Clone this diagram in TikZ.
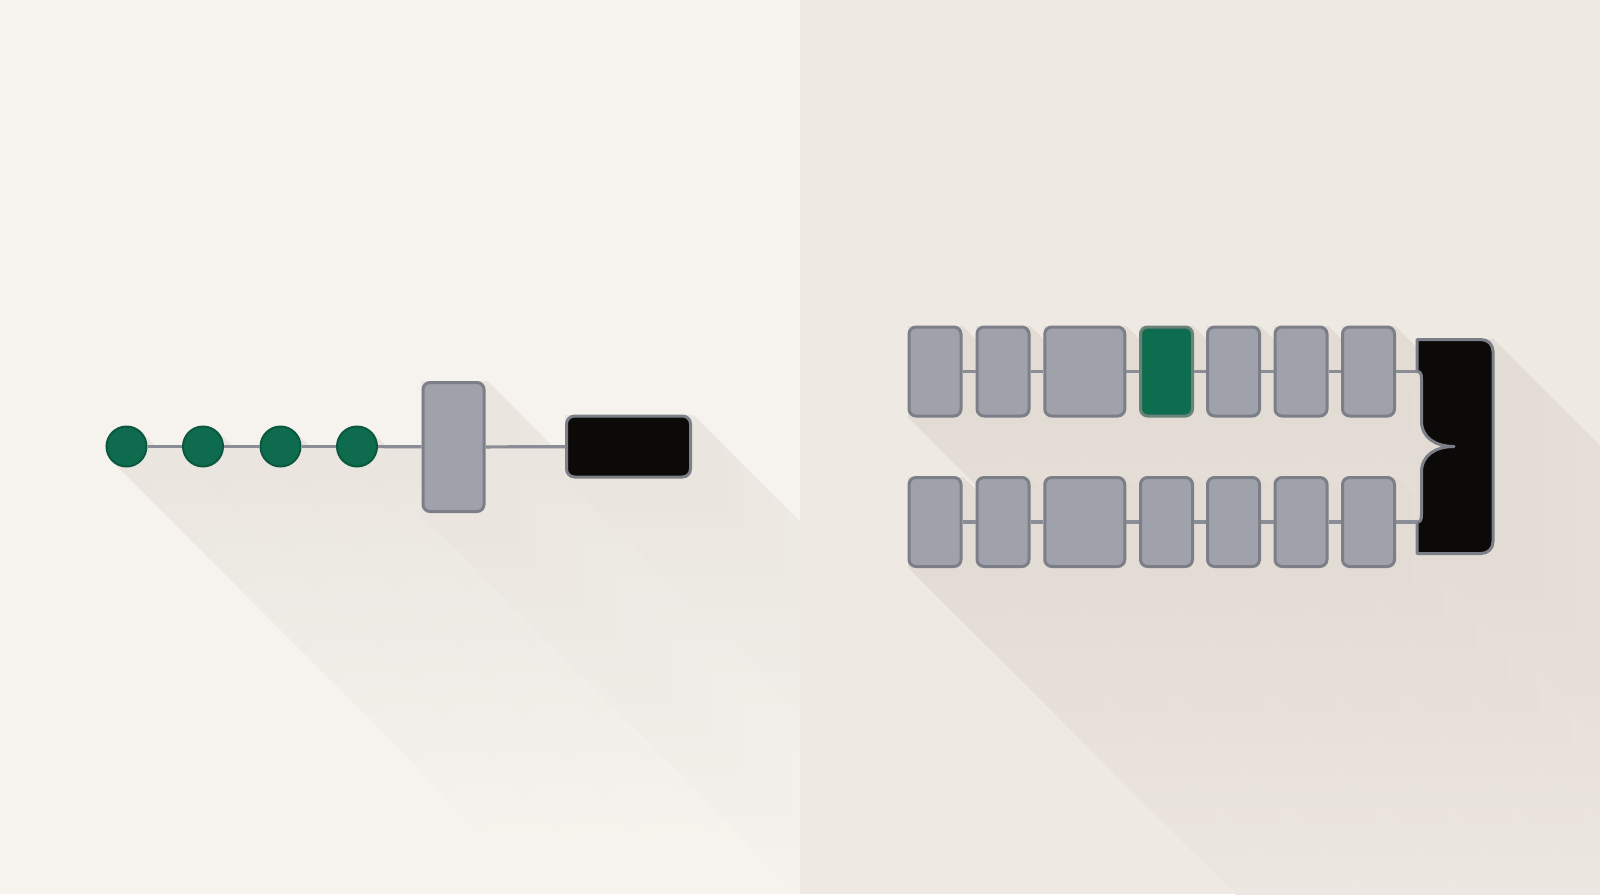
\documentclass[tikz,border=0pt]{standalone}
\definecolor{bgL}{HTML}{F6F3EE}
\definecolor{bgR}{HTML}{EEE9E3}
\definecolor{shL}{HTML}{EAE5DF}
\definecolor{shR}{HTML}{E3DCD4}
\definecolor{grayfill}{HTML}{9FA2AA}
\definecolor{grayedge}{HTML}{7C7F87}
\definecolor{connc}{HTML}{8A8D95}
\definecolor{greenfill}{HTML}{0F6B4E}
\definecolor{greenedge}{HTML}{0A5840}
\definecolor{greenbox}{HTML}{0E6C4F}
\definecolor{greenboxedge}{HTML}{6A8278}
\definecolor{blackfill}{HTML}{0C0A09}
\newcommand\shsweep[5]{(#1,#2) -- (#3,#2) -- ({#3+#5},{#2+#5}) -- ({#3+#5},{#4+#5}) -- ({#1+#5},{#4+#5}) -- (#1,#4) -- cycle}
\newcommand\shcirc[4]{({#1+#3*0.7071},{#2-#3*0.7071}) -- ({#1+#3*0.7071+#4},{#2-#3*0.7071+#4}) -- ({#1-#3*0.7071+#4},{#2+#3*0.7071+#4}) -- ({#1-#3*0.7071},{#2+#3*0.7071}) -- cycle}
\begin{document}
\begin{tikzpicture}[x=0.5pt,y=-0.5pt,
  dot/.style={circle, fill=greenfill, draw=greenedge, line width=1pt, minimum size=20pt, inner sep=0pt},
  gbox/.style={rectangle, rounded corners=3.5pt, fill=grayfill, draw=grayedge, line width=1.5pt, inner sep=0pt},
  narrow/.style={gbox, minimum width=26pt, minimum height=44.5pt},
  wide/.style={gbox, minimum width=40pt, minimum height=44.5pt},
  kbox/.style={rectangle, rounded corners=4pt, fill=blackfill, draw=grayedge, line width=1.5pt, inner sep=0pt},
  conn/.style={draw=connc, line width=1.6pt},
  bracestyle/.style={fill=blackfill, draw=grayedge, line width=1.5pt, line join=round}
]
\useasboundingbox (0,0) rectangle (1600,894);
% backgrounds
\fill[bgL] (0,0) rectangle (800,894);
\fill[bgR] (800,0) rectangle (1600,894);
% left long shadow (opaque layers, far to near)
\begin{scope}
\clip (0,0) rectangle (800,894);
\foreach \L [evaluate=\L as \p using {(400-\L)/3.84}] in {384,368,...,16}{
  \fill[shL!\p!bgL] \shcirc{126.5}{446.5}{20.5}{\L} \shcirc{203}{446.5}{20.5}{\L} \shcirc{280.5}{446.5}{20.5}{\L} \shcirc{357}{446.5}{20.5}{\L}
    \shsweep{126.5}{445}{421}{448.5}{\L}
    \shsweep{421}{381}{486}{513}{\L} \shsweep{486}{445}{565}{448.5}{\L} \shsweep{565}{415}{692}{479}{\L};
}
\end{scope}
% right long shadow
\begin{scope}
\clip (800,0) rectangle (1600,894);
\foreach \L [evaluate=\L as \p using {(400-\L)/3.84}] in {384,368,...,16}{
  \fill[shR!\p!bgR]
   \shsweep{908}{326.5}{962}{416.5}{\L} \shsweep{976.5}{326.5}{1029.5}{416.5}{\L} \shsweep{1044}{326.5}{1125.5}{416.5}{\L}
   \shsweep{1140}{326.5}{1193}{416.5}{\L} \shsweep{1207}{326.5}{1260}{416.5}{\L} \shsweep{1274.5}{326.5}{1327.5}{416.5}{\L}
   \shsweep{1342}{326.5}{1395}{416.5}{\L} \shsweep{908}{370}{1417}{373}{\L}
   \shsweep{908}{477}{962}{567}{\L} \shsweep{976.5}{477}{1029.5}{567}{\L} \shsweep{1044}{477}{1125.5}{567}{\L}
   \shsweep{1140}{477}{1193}{567}{\L} \shsweep{1207}{477}{1260}{567}{\L} \shsweep{1274.5}{477}{1327.5}{567}{\L}
   \shsweep{1342}{477}{1395}{567}{\L} \shsweep{908}{520.5}{1417}{523.5}{\L}
   \shsweep{1417}{339.5}{1493}{553.5}{\L};
}
\end{scope}
% left diagram
\node[dot] (c1) at (126.5,446.5) {};
\node[dot] (c2) at (203,446.5) {};
\node[dot] (c3) at (280.5,446.5) {};
\node[dot] (c4) at (357,446.5) {};
\node[gbox, minimum width=30.5pt, minimum height=64.5pt] (g) at (453.5,447) {};
\node[kbox, minimum width=62pt, minimum height=30.5pt] (k) at (628.5,446.5) {};
% right diagram: boxes
\node[narrow] (t1) at (935,371.5) {};
\node[narrow] (t2) at (1003,371.5) {};
\node[wide]   (t3) at (1084.75,371.5) {};
\node[narrow, fill=greenbox, draw=greenboxedge] (t4) at (1166.5,371.5) {};
\node[narrow] (t5) at (1233.5,371.5) {};
\node[narrow] (t6) at (1301,371.5) {};
\node[narrow] (t7) at (1368.5,371.5) {};
\node[narrow] (b1) at (935,522) {};
\node[narrow] (b2) at (1003,522) {};
\node[wide]   (b3) at (1084.75,522) {};
\node[narrow] (b4) at (1166.5,522) {};
\node[narrow] (b5) at (1233.5,522) {};
\node[narrow] (b6) at (1301,522) {};
\node[narrow] (b7) at (1368.5,522) {};
\coordinate (ttop) at (1417,371.5);
\coordinate (tbot) at (1417,522);
\coordinate (tip) at (1454,446.5);
% brace-shaped black block
\path[bracestyle] (1417,339.5) -- (1481,339.5) .. controls (1488,339.5) and (1493,344.5) .. (1493,351.5)
  -- (1493,541.5) .. controls (1493,548.5) and (1488,553.5) .. (1481,553.5)
  -- (1417,553.5) -- (tbot) .. controls (1420.5,522) and (1421.5,520) .. (1421.5,514)
  -- (1421.5,472) .. controls (1421.5,455) and (1436,446.5) .. (tip)
  .. controls (1436,446.5) and (1421.5,438) .. (1421.5,421)
  -- (1421.5,379) .. controls (1421.5,373.5) and (1420.5,371.5) .. (ttop) -- cycle;
% connectors
\draw[conn] (c1) -- (c2);
\draw[conn] (c2) -- (c3);
\draw[conn] (c3) -- (c4);
\draw[conn] (c4) -- (g);
\draw[conn] (g) -- (k);
\draw[conn] (t1) -- (t2);
\draw[conn] (t2) -- (t3);
\draw[conn] (t3) -- (t4);
\draw[conn] (t4) -- (t5);
\draw[conn] (t5) -- (t6);
\draw[conn] (t6) -- (t7);
\draw[conn] (t7) -- (ttop);
\draw[conn] (b1) -- (b2);
\draw[conn] (b2) -- (b3);
\draw[conn] (b3) -- (b4);
\draw[conn] (b4) -- (b5);
\draw[conn] (b5) -- (b6);
\draw[conn] (b6) -- (b7);
\draw[conn] (b7) -- (tbot);
\end{tikzpicture}
\end{document}
